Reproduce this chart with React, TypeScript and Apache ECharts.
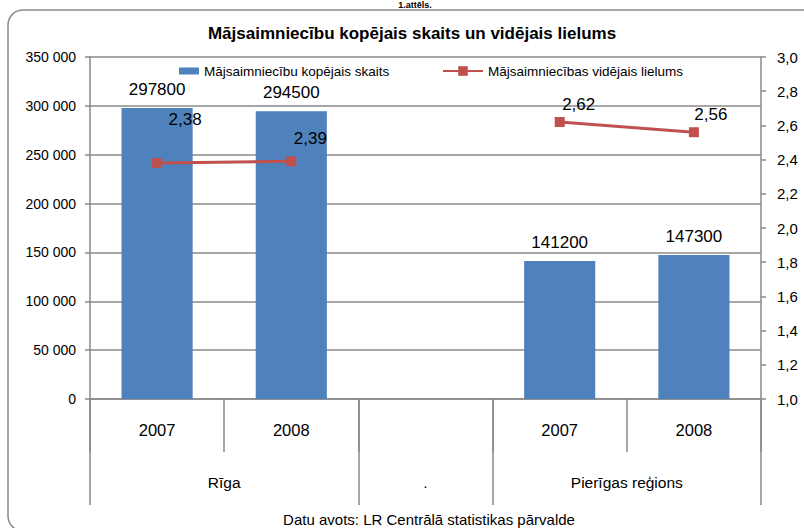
import React, { useEffect, useRef } from "react";
import * as echarts from "echarts";

const categories = ["2007", "2008", "", "2007", "2008"];
const groupLabels = ["", "", "Rīga", "", "", ".", "", "", "Pierīgas reģions", "", ""];
const householdCount: (number | string)[] = [297800, 294500, "-", 141200, 147300];
const householdSize: (number | string)[] = [2.38, 2.39, "-", 2.62, 2.56];
const sizeLabelOffsets: number[][] = [[28, -26], [19, -5], [0, 0], [19, 0], [17, 0]];

const titleText = "Mājsaimniecību kopējais skaits un vidējais lielums";
const topText = "1.attēls.";
const sourceText = "Datu avots: LR Centrālā statistikas pārvalde";
const barName = "Mājsaimniecību kopējais skaits";
const lineName = "Mājsaimniecības vidējais lielums";

const FONT = "'Liberation Sans', Arial, sans-serif";
const GRAY = "#8a8a8a";

export default function App() {
  const ref = useRef<HTMLDivElement>(null);
  useEffect(() => {
    document.body.style.margin = "0";
    const chart = echarts.init(ref.current!, null, { renderer: "svg" });
    const lineData = householdSize.map((v, i) =>
      v === "-" ? "-" : { value: v, label: { offset: sizeLabelOffsets[i] } }
    );
    chart.setOption({
      animation: false,
      backgroundColor: "#ffffff",
      textStyle: { fontFamily: FONT },
      graphic: [
        {
          type: "rect",
          shape: { x: 8, y: 10, width: 812, height: 521, r: 15 },
          style: { fill: "none", stroke: GRAY, lineWidth: 1.5 },
          z: 0,
        },
        {
          type: "text",
          x: 415,
          y: 0,
          style: {
            text: topText,
            font: `bold 9px ${FONT}`,
            fill: "#000",
            align: "center",
            verticalAlign: "top",
          },
        },
        {
          type: "text",
          x: 412,
          y: 33,
          style: {
            text: titleText,
            font: `bold 17px ${FONT}`,
            fill: "#000",
            align: "center",
            verticalAlign: "middle",
          },
        },
        {
          type: "text",
          x: 429,
          y: 519,
          style: {
            text: sourceText,
            font: `15px ${FONT}`,
            fill: "#000",
            align: "center",
            verticalAlign: "middle",
          },
        },
      ],
      legend: [
        {
          data: [barName],
          left: 179,
          top: 64,
          padding: 0,
          icon: "rect",
          itemWidth: 20,
          itemHeight: 7,
          textStyle: { fontSize: 13.5, color: "#000", fontFamily: FONT },
        },
        {
          data: [lineName],
          left: 442,
          top: 64,
          padding: 0,
          itemWidth: 40,
          itemHeight: 12,
          textStyle: { fontSize: 13.5, color: "#000", fontFamily: FONT },
        },
      ],
      grid: { left: 90, right: 43, top: 57, bottom: 129, containLabel: false },
      xAxis: [
        {
          type: "category",
          data: categories,
          position: "bottom",
          boundaryGap: true,
          axisLine: { lineStyle: { color: GRAY, width: 1.5 } },
          axisTick: { show: true, interval: 0, length: 53, lineStyle: { color: GRAY, width: 1.5 } },
          axisLabel: { interval: 0, margin: 22, fontSize: 16.5, color: "#000", fontFamily: FONT },
        },
        {
          type: "category",
          data: groupLabels,
          position: "bottom",
          boundaryGap: false,
          axisLine: { show: false },
          axisTick: {
            show: true,
            length: 106,
            interval: (i: number) => i === 0 || i === 4 || i === 6 || i === 10,
            lineStyle: { color: GRAY, width: 1.5 },
          },
          axisLabel: {
            margin: 75,
            fontSize: 15.5,
            color: "#000",
            fontFamily: FONT,
            interval: (i: number) => i === 2 || i === 5 || i === 8,
          },
        },
      ],
      yAxis: [
        {
          type: "value",
          min: 0,
          max: 350000,
          interval: 50000,
          axisLine: { show: true, lineStyle: { color: GRAY, width: 1.5 } },
          axisTick: { show: true, length: 5, lineStyle: { color: GRAY, width: 1.5 } },
          splitLine: { show: true, lineStyle: { color: GRAY, width: 1.5 } },
          axisLabel: {
            margin: 14,
            fontSize: 14,
            color: "#000",
            fontFamily: FONT,
            formatter: (v: number) => String(v).replace(/\B(?=(\d{3})+(?!\d))/g, " "),
          },
        },
        {
          type: "value",
          min: 1,
          max: 3,
          interval: 0.2,
          position: "right",
          axisLine: { show: true, lineStyle: { color: GRAY, width: 1.5 } },
          axisTick: { show: true, length: 5, lineStyle: { color: GRAY, width: 1.5 } },
          splitLine: { show: false },
          axisLabel: {
            margin: 16,
            fontSize: 15,
            color: "#000",
            fontFamily: FONT,
            formatter: (v: number) => v.toFixed(1).replace(".", ","),
          },
        },
      ],
      series: [
        {
          name: barName,
          type: "bar",
          data: householdCount,
          xAxisIndex: 0,
          yAxisIndex: 0,
          barWidth: "53%",
          itemStyle: { color: "#4F81BD" },
          label: {
            show: true,
            position: "top",
            distance: 10,
            fontSize: 17,
            color: "#000",
            fontFamily: FONT,
          },
        },
        {
          name: lineName,
          type: "line",
          data: lineData,
          xAxisIndex: 0,
          yAxisIndex: 1,
          connectNulls: false,
          symbol: "rect",
          symbolSize: 10,
          lineStyle: { color: "#C0504D", width: 3 },
          itemStyle: { color: "#C0504D" },
          label: {
            show: true,
            position: "top",
            distance: 4,
            fontSize: 17,
            color: "#000",
            fontFamily: FONT,
            formatter: (p: any) => Number(p.value).toFixed(2).replace(".", ","),
          },
        },
      ],
    });
    return () => chart.dispose();
  }, []);
  return <div ref={ref} style={{ width: 804, height: 528 }} />;
}
